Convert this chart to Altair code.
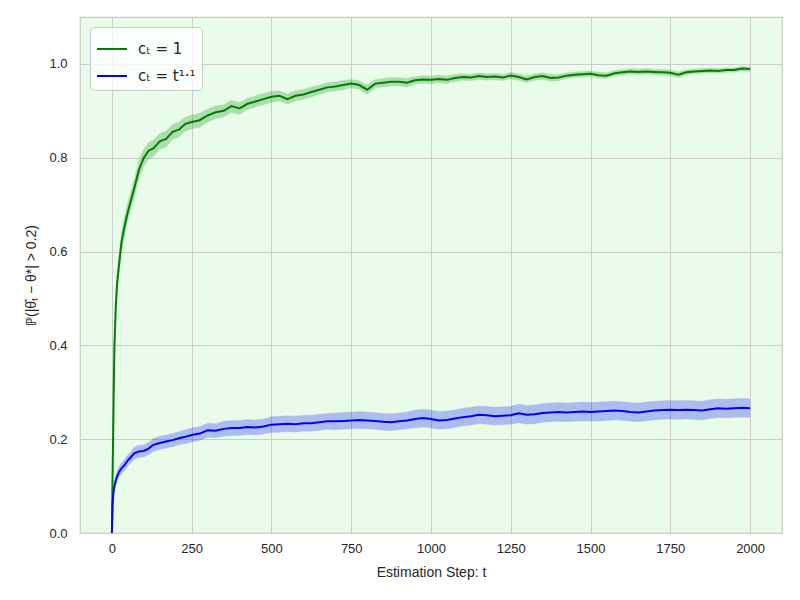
import altair as alt
import pandas as pd

# ---- data ----
t_steps = [0, 2, 4, 6, 8, 12, 16, 22, 30, 40, 50, 60, 70, 85, 100, 115, 130, 150, 170, 190,
           210, 230, 250, 275, 300, 325, 350, 375, 400, 425, 450, 475, 500, 525, 550, 575,
           600, 625, 650, 675, 700, 725, 750, 775, 800, 825, 850, 875, 900, 925, 950, 975,
           1000, 1025, 1050, 1075, 1100, 1125, 1150, 1175, 1200, 1225, 1250, 1275, 1300,
           1325, 1350, 1375, 1400, 1425, 1450, 1475, 1500, 1525, 1550, 1575, 1600, 1625,
           1650, 1675, 1700, 1725, 1750, 1775, 1800, 1825, 1850, 1875, 1900, 1925, 1950,
           1975, 2000]

green_vals = [0.0, 0.12, 0.21, 0.32, 0.40, 0.48, 0.53, 0.57, 0.62, 0.655, 0.685, 0.71, 0.735,
              0.775, 0.80, 0.815, 0.82, 0.835, 0.84, 0.855, 0.86, 0.872, 0.876, 0.88, 0.89,
              0.897, 0.90, 0.91, 0.905, 0.915, 0.92, 0.925, 0.93, 0.932, 0.925, 0.932, 0.935,
              0.94, 0.945, 0.95, 0.952, 0.955, 0.958, 0.955, 0.945, 0.958, 0.96, 0.962, 0.962,
              0.96, 0.965, 0.967, 0.966, 0.968, 0.966, 0.97, 0.972, 0.971, 0.974, 0.972, 0.973,
              0.971, 0.975, 0.972, 0.967, 0.972, 0.974, 0.97, 0.971, 0.975, 0.977, 0.978,
              0.979, 0.976, 0.975, 0.98, 0.982, 0.984, 0.983, 0.984, 0.983, 0.982, 0.981,
              0.977, 0.982, 0.984, 0.985, 0.986, 0.985, 0.987, 0.987, 0.99, 0.989]

blue_vals = [0.0, 0.06, 0.08, 0.092, 0.10, 0.112, 0.12, 0.13, 0.138, 0.145, 0.155, 0.162, 0.17,
             0.174, 0.175, 0.18, 0.188, 0.192, 0.195, 0.198, 0.202, 0.205, 0.209, 0.212, 0.219,
             0.218, 0.222, 0.224, 0.224, 0.226, 0.225, 0.227, 0.231, 0.232, 0.233, 0.232,
             0.234, 0.234, 0.236, 0.238, 0.238, 0.239, 0.240, 0.241, 0.240, 0.239, 0.237,
             0.236, 0.238, 0.240, 0.243, 0.245, 0.243, 0.240, 0.241, 0.244, 0.247, 0.249,
             0.252, 0.251, 0.249, 0.250, 0.251, 0.255, 0.252, 0.253, 0.256, 0.257, 0.258,
             0.257, 0.258, 0.259, 0.258, 0.259, 0.260, 0.261, 0.260, 0.258, 0.257, 0.259,
             0.261, 0.262, 0.263, 0.262, 0.263, 0.262, 0.261, 0.264, 0.266, 0.265, 0.266,
             0.267, 0.266]

# half-width of the shaded band, read per section of the curve
green_band = [0.0, 0.01, 0.015, 0.02, 0.02, 0.022, 0.022, 0.022, 0.022, 0.022, 0.02, 0.02,
              0.02, 0.02, 0.018, 0.018, 0.018, 0.017, 0.017, 0.016, 0.016, 0.015, 0.015,
              0.015, 0.014, 0.014, 0.013, 0.013, 0.013, 0.012, 0.012, 0.012, 0.012, 0.011,
              0.011, 0.011, 0.011, 0.011, 0.010, 0.010, 0.010, 0.010, 0.009, 0.009, 0.010,
              0.009, 0.009, 0.009, 0.009, 0.009, 0.008, 0.008, 0.008, 0.008, 0.008, 0.008,
              0.007, 0.007, 0.007, 0.007, 0.007, 0.007, 0.007, 0.007, 0.007, 0.007, 0.007,
              0.007, 0.007, 0.006, 0.006, 0.006, 0.006, 0.006, 0.006, 0.006, 0.006, 0.006,
              0.006, 0.006, 0.006, 0.006, 0.006, 0.006, 0.006, 0.005, 0.005, 0.005, 0.005,
              0.005, 0.005, 0.005, 0.005]

blue_band = [0.0, 0.006, 0.008, 0.009, 0.009, 0.010, 0.010, 0.011, 0.011, 0.012, 0.012, 0.012,
             0.013, 0.013, 0.013, 0.013, 0.014, 0.014, 0.014, 0.014, 0.014, 0.015, 0.015,
             0.015, 0.015, 0.015, 0.016, 0.016, 0.016, 0.016, 0.016, 0.016, 0.017, 0.017,
             0.017, 0.017, 0.017, 0.017, 0.017, 0.017, 0.018, 0.018, 0.018, 0.018, 0.018,
             0.018, 0.018, 0.018, 0.018, 0.018, 0.019, 0.019, 0.019, 0.019, 0.019, 0.019,
             0.019, 0.019, 0.019, 0.019, 0.019, 0.019, 0.019, 0.020, 0.020, 0.020, 0.020,
             0.020, 0.020, 0.020, 0.020, 0.020, 0.020, 0.020, 0.020, 0.020, 0.020, 0.020,
             0.020, 0.020, 0.020, 0.020, 0.020, 0.020, 0.020, 0.020, 0.020, 0.020, 0.020,
             0.020, 0.020, 0.020, 0.020]

series_names = ["cₜ = 1", "cₜ = t¹·¹"]
series_colors = ["#008000", "#0000ff"]
x_ticks = [0, 250, 500, 750, 1000, 1250, 1500, 1750, 2000]
y_ticks = [0.0, 0.2, 0.4, 0.6, 0.8, 1.0]

rows = []
for name, vals, band in [(series_names[0], green_vals, green_band),
                         (series_names[1], blue_vals, blue_band)]:
    for t, v, b in zip(t_steps, vals, band):
        rows.append({"series": name, "t": t, "p": v, "lo": max(v - b, 0), "hi": v + b})
df = pd.DataFrame(rows)

xscale = alt.Scale(domain=[-100, 2100], nice=False, zero=False)
yscale = alt.Scale(domain=[0, 1.1], nice=False)
cscale = alt.Scale(domain=series_names, range=series_colors)

x_enc = alt.X("t:Q", scale=xscale,
              axis=alt.Axis(values=x_ticks, title="Estimation Step: t", format="d"))
y_enc = alt.Y("p:Q", scale=yscale,
              axis=alt.Axis(values=y_ticks, format=".1f",
                            title="ℙ(|θ̂ₜ − θ*| > 0.2)"))

band = alt.Chart(df).mark_area(opacity=0.25, strokeOpacity=0.35, strokeWidth=1).encode(
    x=alt.X("t:Q", scale=xscale),
    y=alt.Y("lo:Q", scale=yscale),
    y2="hi:Q",
    fill=alt.Fill("series:N", scale=cscale, legend=None),
    stroke=alt.Stroke("series:N", scale=cscale, legend=None),
)

line = alt.Chart(df).mark_line(strokeWidth=2).encode(
    x=x_enc,
    y=y_enc,
    color=alt.Color("series:N", scale=cscale, title=None,
                    sort=series_names,
                    legend=alt.Legend(orient="top-left", offset=10,
                                      symbolType="stroke", symbolStrokeWidth=2,
                                      symbolSize=900,
                                      labelFontSize=15, labelColor="#262626",
                                      labelOffset=10,
                                      fillColor="rgba(255,255,255,0.8)",
                                      strokeColor="#cccccc", cornerRadius=4,
                                      padding=6, rowPadding=3)),
)

chart = alt.layer(band, line).resolve_legend(
    color="independent", fill="independent", stroke="independent"
).properties(
    width=702, height=516,
    autosize=alt.AutoSizeParams(type="none"),
    padding={"left": 72, "top": 9, "right": 10, "bottom": 50},
).configure_view(
    fill="#e9fce9", stroke="#cccccc", strokeWidth=1.25
).configure_axis(
    grid=True, gridColor="#cccccc", gridWidth=1,
    domain=False, ticks=False, tickSize=0,
    labelFont="Liberation Sans", labelFontSize=13, labelColor="#262626",
    titleFont="Liberation Sans", titleFontSize=14, titleFontWeight="normal",
    titleColor="#262626",
).configure_axisX(labelPadding=9, titlePadding=10).configure_axisY(
    labelPadding=13, titlePadding=10
).configure_legend(labelFont="DejaVu Sans")

chart.save("out.html", embed_options={"renderer": "svg", "actions": False})
